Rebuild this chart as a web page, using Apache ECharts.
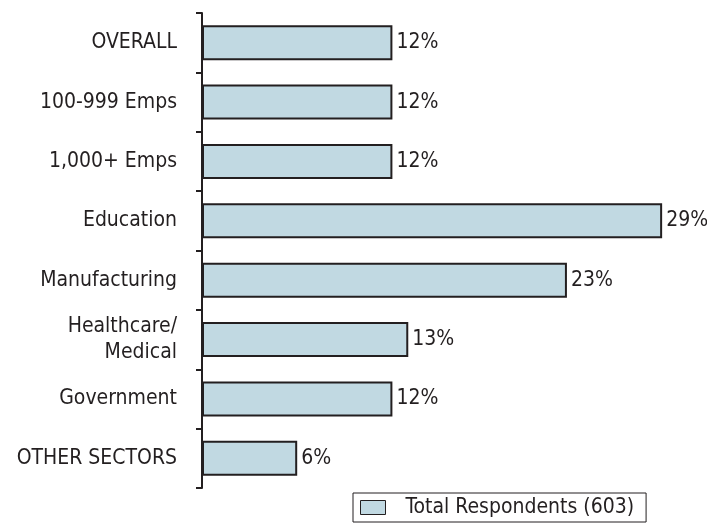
<!DOCTYPE html>
<html>
<head>
<meta charset="utf-8">
<style>
  html, body { margin: 0; padding: 0; background: #ffffff; }
  #chart { width: 707px; height: 525px; }
</style>
<script src="https://cdn.jsdelivr.net/npm/echarts@6/dist/echarts.min.js"></script>
</head>
<body>
<div id="chart"></div>
<script>
// Share of respondents by group (percent)
const categories = [
  'OVERALL',
  '100-999 Emps',
  '1,000+ Emps',
  'Education',
  'Manufacturing',
  'Healthcare/\nMedical',
  'Government',
  'OTHER SECTORS'
];
const values = [12, 12, 12, 29, 23, 13, 12, 6];
const seriesName = 'Total Respondents (603)';

const FONT = '"DejaVu Sans Condensed", "Liberation Sans Narrow", sans-serif';
const INK = '#231f20';
const FILL = '#c1d9e2';

const chart = echarts.init(document.getElementById('chart'), null, { renderer: 'canvas' });

chart.setOption({
  animation: false,
  backgroundColor: '#ffffff',
  grid: { left: 202, right: 29, top: 13, bottom: 37, containLabel: false },
  legend: {
    data: [seriesName],
    left: 353,
    top: 493,
    orient: 'horizontal',
    itemWidth: 25,
    itemHeight: 14,
    padding: [4, 12, 4, 7],
    borderColor: INK,
    borderWidth: 1,
    borderRadius: 0,
    icon: 'rect',
    itemStyle: { borderColor: INK, borderWidth: 1 },
    textStyle: { fontFamily: FONT, fontSize: 21, color: INK, padding: [0, 0, 0, 15] }
  },
  xAxis: {
    type: 'value',
    min: 0,
    max: 30,
    show: false
  },
  yAxis: {
    type: 'category',
    data: categories,
    inverse: true,
    axisLine: { show: true, lineStyle: { color: INK, width: 2 } },
    axisTick: { show: true, length: 6, lineStyle: { color: INK, width: 2 } },
    axisLabel: {
      margin: 25,
      fontFamily: FONT,
      fontSize: 21,
      color: INK,
      lineHeight: 26,
      align: 'right'
    },
    splitLine: { show: false }
  },
  series: [{
    name: seriesName,
    type: 'bar',
    data: values,
    barWidth: 35,
    itemStyle: { color: FILL, borderColor: INK, borderWidth: 2 },
    label: {
      show: true,
      position: 'right',
      distance: 4,
      formatter: '{c}%',
      fontFamily: FONT,
      fontSize: 21,
      color: INK
    }
  }]
});
</script>
</body>
</html>
